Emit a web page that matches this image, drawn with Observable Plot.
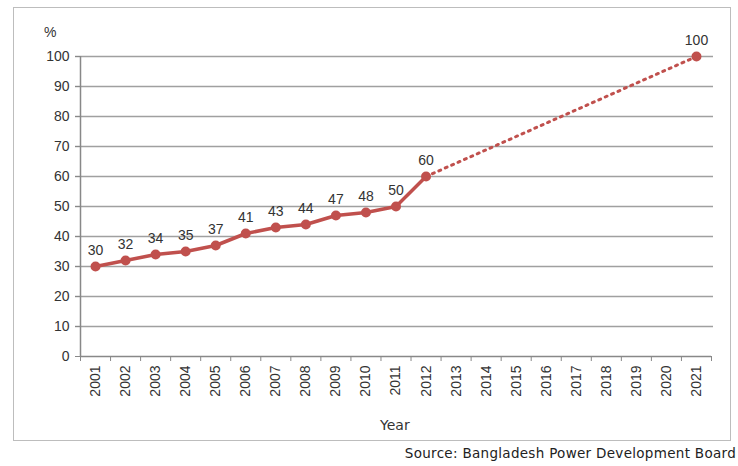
<!DOCTYPE html>
<html><head><meta charset="utf-8">
<script src="https://cdn.jsdelivr.net/npm/d3@7"></script>
<script src="https://cdn.jsdelivr.net/npm/@observablehq/plot@0.6"></script>
<style>
body{margin:0;background:#fff;font-family:"Liberation Sans",Arial,sans-serif;}
#wrap{position:relative;width:738px;height:466px;overflow:hidden;}
#box{position:absolute;left:13px;top:7px;width:718px;height:434px;border:1.5px solid #bdbdbd;box-sizing:border-box;}
#chart{position:absolute;left:0;top:0;}
.lbl{position:absolute;color:#333;font-size:14px;}
</style></head>
<body><div id="wrap"><div id="box"></div><div id="chart"></div>
<div class="lbl" style="left:44px;top:24px;">%</div>
<div class="lbl" style="left:380px;top:417px;font-family:'DejaVu Sans';font-size:14px;">Year</div>
<div class="lbl" style="right:2px;top:445px;font-family:'DejaVu Sans';font-size:13.5px;font-weight:500;color:#222;letter-spacing:0.3px;">Source: Bangladesh Power Development Board</div>
</div>
<script>
const years = d3.range(2001, 2022);
const actualYears = [2001,2002,2003,2004,2005,2006,2007,2008,2009,2010,2011,2012];
const actualValues = [30,32,34,35,37,41,43,44,47,48,50,60];
const targetYears = [2012, 2021];
const targetValues = [60, 100];
const yTicks = [0,10,20,30,40,50,60,70,80,90,100];

const actual = actualYears.map((y,i)=>({year:y, value:actualValues[i]}));
const target = targetYears.map((y,i)=>({year:y, value:targetValues[i]}));
const labelled = actual.concat([target[1]]);
const boundaries = years.map(y=>y-0.5).concat([2021.5]);
const red = "#c0504d";

const chart = Plot.plot({
  width: 738, height: 466,
  marginLeft: 80, marginRight: 27, marginTop: 56, marginBottom: 110,
  style: {fontFamily: "Liberation Sans, Arial, sans-serif", fontSize: "14px", color: "#333", background: "transparent"},
  x: {type: "linear", domain: [2000.5, 2021.5]},
  y: {domain: [0, 100]},
  marks: [
    Plot.ruleY(yTicks.filter(d=>d>0), {stroke: "#a0a0a0", strokeWidth: 1.5, x1: 2000.5, x2: 2021.5, insetLeft: -5, insetRight: -2}),
    Plot.axisY({ticks: yTicks, tickSize: 5, tickPadding: 6, label: null, stroke: "#888", tickFormat: d=>String(d), fontSize: 14}),
    Plot.axisX({ticks: boundaries, tickSize: 5, tickFormat: ()=> "", label: null, stroke: "#888"}),
    Plot.axisX({ticks: years, tickSize: 0, tickPadding: 9, tickRotate: -90, tickFormat: d=>String(d), label: null, fontSize: 14}),
    Plot.ruleX([2000.5], {stroke: "#888", strokeWidth: 1.5, y1: 0, y2: 100}),
    Plot.ruleY([0], {stroke: "#888", strokeWidth: 1.5, x1: 2000.5, x2: 2021.5}),
    Plot.line(target, {x: "year", y: "value", stroke: red, strokeWidth: 3, strokeDasharray: "2,5"}),
    Plot.line(actual, {x: "year", y: "value", stroke: red, strokeWidth: 3.5}),
    Plot.dot(labelled, {x: "year", y: "value", r: 5, fill: red, stroke: "none"}),
    Plot.text(labelled, {x: "year", y: "value", text: d=>String(d.value), dy: -16, fill: "#333", fontSize: 14})
  ]
});
document.getElementById("chart").appendChild(chart);
</script></body></html>
